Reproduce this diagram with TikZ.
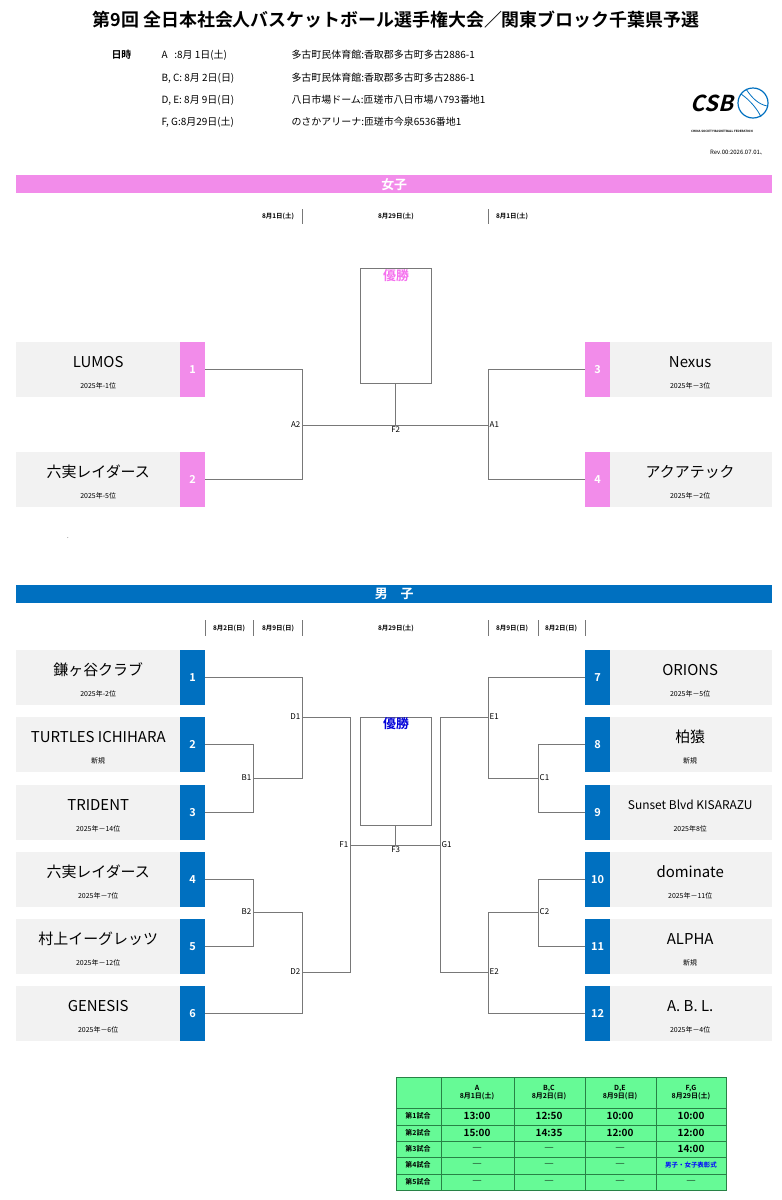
\documentclass[tikz,border=0pt]{standalone}
\usepackage{fontspec}
\setmainfont{Noto Sans CJK JP}[BoldFont={Noto Sans CJK JP Bold}]
\usetikzlibrary{positioning,calc}
\definecolor{wpink}{RGB}{242,140,234}
\definecolor{mblue}{RGB}{0,112,192}
\definecolor{boxgray}{RGB}{242,242,242}
\definecolor{brgray}{RGB}{120,120,120}
\definecolor{tgreen}{RGB}{102,250,150}
\definecolor{tline}{RGB}{40,130,70}
\tikzset{
  team/.style = {fill=boxgray,anchor=north west,minimum width=164bp,minimum height=55bp,inner sep=0},
  num/.style = {anchor=north west,minimum width=25bp,minimum height=55bp,inner sep=0,
                text=white,font=\fontsize{11}{11}\selectfont\bfseries},
  tname/.style = {font=\fontsize{15}{15}\selectfont,inner sep=0},
  tsub/.style = {font=\fontsize{7}{7}\selectfont,inner sep=0},
  br/.style = {draw=brgray,line width=0.8bp},
  mlab/.style = {font=\fontsize{8}{8}\selectfont,inner sep=1.5bp},
  day/.style = {font=\fontsize{6.5}{6.5}\selectfont\bfseries,inner sep=0},
  band/.style = {minimum width=756bp,minimum height=18bp,anchor=north west,inner sep=0,
                 text=white,font=\fontsize{13}{13}\selectfont\bfseries},
  cell/.style = {font=\fontsize{10}{10}\selectfont\bfseries,inner sep=0},
  hcell/.style = {font=\fontsize{7}{8}\selectfont\bfseries,inner sep=0,align=center},
  info/.style = {font=\fontsize{10}{10}\selectfont,anchor=west},
}
\begin{document}
\begin{tikzpicture}[x=1bp,y=-1bp]
\useasboundingbox (0,0) rectangle (782,1200);
% header
\node[font=\fontsize{18}{18}\selectfont\bfseries] (title) at (396,20) {第9回 全日本社会人バスケットボール選手権大会／関東ブロック千葉県予選};
\node[info,font=\fontsize{10}{10}\selectfont\bfseries] (dt) at (108,55) {日時};
\foreach \y/\a/\v [count=\k] in {55/{A\ \ \ :8月 1日(土)}/{多古町民体育館:香取郡多古町多古2886-1},
    78/{B, C: 8月 2日(日)}/{多古町民体育館:香取郡多古町多古2886-1},
    100/{D, E: 8月 9日(日)}/{八日市場ドーム:匝瑳市八日市場ハ793番地1},
    122/{F, G:8月29日(土)}/{のさかアリーナ:匝瑳市今泉6536番地1}}{
  \node[info] (sd\k) at (158,\y) {\a};
  \node[info] (sv\k) at (288,\y) {\v};
}
% logo
\node[font=\fontsize{22}{22}\selectfont\bfseries,xslant=0.25] (csb) at (714,103) {CSB};
\draw[mblue,line width=1.2bp] (753,103) circle (15);
\draw[mblue,line width=0.8bp] (741,94) .. controls (750,100) and (758,110) .. (761,117);
\draw[mblue,line width=0.8bp] (746,89) .. controls (752,98) and (758,104) .. (767,106);
\node[font=\fontsize{3}{3}\selectfont\bfseries] (csbf) at (722,131) {CHINA SOCIETY BASKETBALL FEDERATION};
\node[font=\fontsize{6}{6}\selectfont] (rev) at (738,152) {Rev.00:2026.07.01、};

% women
\node[band,fill=wpink] (wband) at (16,175) {女子};
\node[day] (wd1) at (278,216) {8月1日(土)};
\node[day] (wd2) at (396,216) {8月29日(土)};
\node[day] (wd3) at (512,216) {8月1日(土)};
\draw[br,line width=0.5bp] (302,209) -- (302,224) (488,209) -- (488,224);
\foreach \i/\y/\nm/\sb in {1/342/LUMOS/2025年-1位, 2/452/六実レイダース/2025年-5位}{
  \node[team] (wt\i) at (16,\y) {};
  \node[num,fill=wpink] (wn\i) at (180,\y) {\i};
  \node[tname] at ($(wt\i.north)+(0,20)$) {\nm};
  \node[tsub] at ($(wt\i.north)+(0,44)$) {\sb};
}
\foreach \i/\y/\nm/\sb in {3/342/Nexus/2025年－3位, 4/452/アクアテック/2025年－2位}{
  \node[team] (wt\i) at (608,\y) {};
  \node[num,fill=wpink] (wn\i) at (585,\y) {\i};
  \node[tname] at ($(wt\i.north)+(0,20)$) {\nm};
  \node[tsub] at ($(wt\i.north)+(0,44)$) {\sb};
}
\node[draw=brgray,minimum width=71bp,minimum height=115bp,anchor=north west,inner sep=0] (wwin) at (360,268) {};
\node[text=wpink!80!magenta,font=\fontsize{13}{13}\selectfont\bfseries] (wwt) at (396,276) {優勝};
\coordinate (A2) at (302,425);
\coordinate (A1) at (488,425);
\coordinate (F2) at (wwin.south |- A2);
\draw[br] (wn1.east) -| (A2) (wn2.east) -| (A2) (A2) -- (A1);
\draw[br] (wn3.west) -| (A1) (wn4.west) -| (A1);
\draw[br] (wwin.south) -- (F2);
\node[mlab,anchor=east] at (A2) {A2};
\node[mlab,anchor=west] at (A1) {A1};
\node[mlab,anchor=north] at (F2) {F2};
\node[font=\fontsize{6}{6}\selectfont] (dot) at (68,538) {.};

% men
\node[band,fill=mblue] (mband) at (16,585) {男　子};
\foreach \x/\t [count=\k] in {229/{8月2日(日)},278/{8月9日(日)},396/{8月29日(土)},512/{8月9日(日)},561/{8月2日(日)}}
  \node[day] (md\k) at (\x,628) {\t};
\foreach \x in {205,253,302,488,538,585}
  \draw[br,line width=0.5bp] (\x,620) -- (\x,636);
\foreach \i/\y/\nm/\sb in {1/650/鎌ヶ谷クラブ/2025年-2位, 2/717/TURTLES ICHIHARA/新規,
    3/785/TRIDENT/2025年－14位, 4/852/六実レイダース/2025年－7位,
    5/919/村上イーグレッツ/2025年－12位, 6/986/GENESIS/2025年－6位}{
  \node[team] (mt\i) at (16,\y) {};
  \node[num,fill=mblue] (mn\i) at (180,\y) {\i};
  \node[tname] at ($(mt\i.north)+(0,20)$) {\nm};
  \node[tsub] at ($(mt\i.north)+(0,44)$) {\sb};
}
\foreach \i/\y/\nm/\sb in {7/650/ORIONS/2025年－5位, 8/717/柏猿/新規,
    9/785/{\fontsize{12}{12}\selectfont Sunset Blvd KISARAZU}/2025年8位, 10/852/dominate/2025年－11位,
    11/919/ALPHA/新規, 12/986/A. B. L./2025年－4位}{
  \node[team] (mt\i) at (608,\y) {};
  \node[num,fill=mblue] (mn\i) at (585,\y) {\i};
  \node[tname] at ($(mt\i.north)+(0,20)$) {\nm};
  \node[tsub] at ($(mt\i.north)+(0,44)$) {\sb};
}
\node[draw=brgray,minimum width=71bp,minimum height=108bp,anchor=north west,inner sep=0] (mwin) at (360,717) {};
\node[text=blue!85!black,font=\fontsize{13}{13}\selectfont\bfseries] (mwt) at (396,724) {優勝};
\coordinate (B1) at (253,778);
\coordinate (B2) at (253,912);
\coordinate (D1) at (302,717);
\coordinate (D2) at (302,972);
\coordinate (F1) at (350,845);
\coordinate (G1) at (440,845);
\coordinate (F3) at (mwin.south |- F1);
\coordinate (C1) at (538,778);
\coordinate (C2) at (538,912);
\coordinate (E1) at (488,717);
\coordinate (E2) at (488,972);
\draw[br] (mn2.east) -| (B1) (mn3.east) -| (B1) (mn4.east) -| (B2) (mn5.east) -| (B2);
\draw[br] (mn1.east) -| (D1) (B1) -| (D1) (B2) -| (D2) (mn6.east) -| (D2);
\draw[br] (D1) -| (F1) (D2) -| (F1) (F1) -- (G1) (mwin.south) -- (F3);
\draw[br] (mn8.west) -| (C1) (mn9.west) -| (C1) (mn10.west) -| (C2) (mn11.west) -| (C2);
\draw[br] (mn7.west) -| (E1) (C1) -| (E1) (C2) -| (E2) (mn12.west) -| (E2);
\draw[br] (E1) -| (G1) (E2) -| (G1);
\foreach \c in {B1,B2,D1,D2,F1} \node[mlab,anchor=east] at (\c) {\c};
\foreach \c in {C1,C2,E1,E2,G1} \node[mlab,anchor=west] at (\c) {\c};
\node[mlab,anchor=north] at (F3) {F3};

% time table
\fill[tgreen] (396,1077) rectangle (726,1190);
\draw[tline,line width=0.6bp] (396,1077) rectangle (726,1190);
\foreach \x in {441,514,585,656} \draw[tline,line width=0.6bp] (\x,1077) -- (\x,1190);
\foreach \y in {1108,1125,1141,1157,1174} \draw[tline,line width=0.6bp] (396,\y) -- (726,\y);
\foreach \x/\h [count=\k] in {477/{A\\8月1日(土)},549/{B,C\\8月2日(日)},620/{D,E\\8月9日(日)},691/{F,G\\8月29日(土)}}
  \node[hcell] (th\k) at (\x,1093) {\h};
\foreach \y/\r/\a/\b/\c/\d [count=\k] in {1116/第1試合/13:00/12:50/10:00/10:00, 1133/第2試合/15:00/14:35/12:00/12:00,
    1149/第3試合/―/―/―/14:00, 1165/第4試合/―/―/―/{}, 1182/第5試合/―/―/―/―}{
  \node[font=\fontsize{7}{7}\selectfont\bfseries] (tr\k) at (418,\y) {\r};
  \node[cell] at (477,\y) {\a};
  \node[cell] at (549,\y) {\b};
  \node[cell] at (620,\y) {\c};
  \node[cell] at (691,\y) {\d};
}
\node[font=\fontsize{6.5}{6.5}\selectfont\bfseries,text=blue] (award) at (691,1165) {男子・女子表彰式};
\end{tikzpicture}
\end{document}
